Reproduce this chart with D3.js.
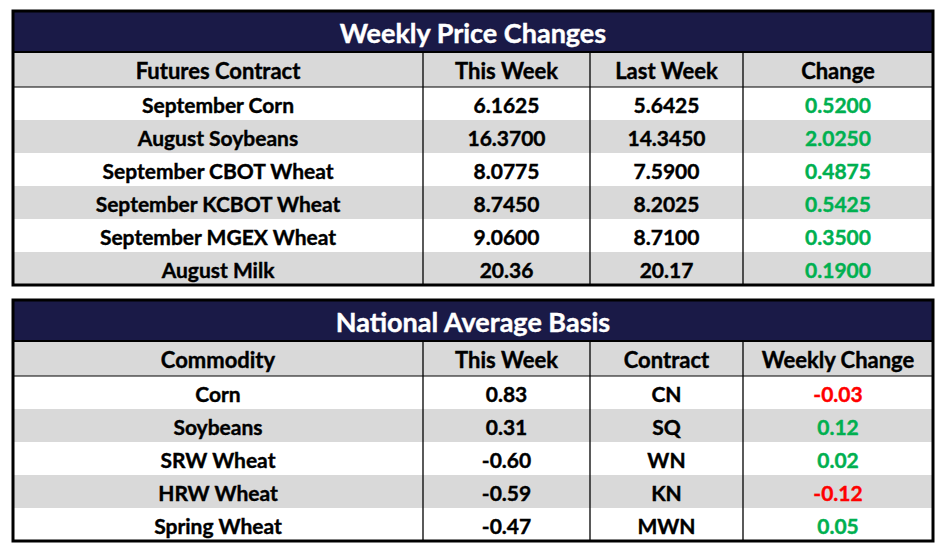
<!DOCTYPE html>
<html>
<head>
<meta charset="utf-8">
<script src="https://cdn.jsdelivr.net/npm/d3@7"></script>
<style>
  body { margin: 0; background: #fff; }
  text { font-family: Lato, "Open Sans", sans-serif; font-weight: 700; }
</style>
</head>
<body>
<div id="chart"></div>
<script>
// Weekly price changes table
const futuresHeaders = ["Futures Contract", "This Week", "Last Week", "Change"]
const futuresContracts = ["September Corn", "August Soybeans", "September CBOT Wheat",
  "September KCBOT Wheat", "September MGEX Wheat", "August Milk"]
const futuresThisWeek = ["6.1625", "16.3700", "8.0775", "8.7450", "9.0600", "20.36"]
const futuresLastWeek = ["5.6425", "14.3450", "7.5900", "8.2025", "8.7100", "20.17"]
const futuresChange = ["0.5200", "2.0250", "0.4875", "0.5425", "0.3500", "0.1900"]

// National average basis table
const basisHeaders = ["Commodity", "This Week", "Contract", "Weekly Change"]
const basisCommodities = ["Corn", "Soybeans", "SRW Wheat", "HRW Wheat", "Spring Wheat"]
const basisThisWeek = ["0.83", "0.31", "-0.60", "-0.59", "-0.47"]
const basisContracts = ["CN", "SQ", "WN", "KN", "MWN"]
const basisChange = ["-0.03", "0.12", "0.02", "-0.12", "0.05"]

const W = 947, H = 553
const navy = "#1a1a47", gray = "#d9d9d9", green = "#00b050", red = "#ff0000"

const svg = d3.select("#chart").append("svg")
  .attr("width", W).attr("height", H)

// column edges shared by both tables
const colX = d3.scaleLinear().domain([0, 1, 2, 3, 4]).range([13, 423, 590, 743, 933])

function drawTable(top, title, headers, columns, colorCol) {
  const nRows = columns[0].length
  const titleH = 41, headH = 35, rowH = 33
  const headTop = top + titleH
  const bodyTop = headTop + headH
  const y = d3.scaleBand().domain(d3.range(nRows)).range([bodyTop, bodyTop + rowH * nRows])
  const bottom = bodyTop + rowH * nRows
  const g = svg.append("g")

  // title bar
  g.append("rect").attr("x", colX(0)).attr("y", top)
    .attr("width", colX(4) - colX(0)).attr("height", titleH).attr("fill", navy)
  g.append("text").attr("x", (colX(0) + colX(4)) / 2).attr("y", top + titleH / 2 + 1)
    .attr("text-anchor", "middle").attr("dominant-baseline", "central")
    .attr("fill", "#fff").attr("stroke", "#fff").attr("stroke-width", 0.4)
    .attr("font-size", 27).text(title)

  // header row
  g.append("rect").attr("x", colX(0)).attr("y", headTop)
    .attr("width", colX(4) - colX(0)).attr("height", headH).attr("fill", gray)
  g.selectAll(".hdr").data(headers).enter().append("text")
    .attr("x", (d, i) => (colX(i) + colX(i + 1)) / 2)
    .attr("y", headTop + headH / 2 + 1)
    .attr("text-anchor", "middle").attr("dominant-baseline", "central")
    .attr("font-size", 22).attr("fill", "#000").attr("stroke", "#000").attr("stroke-width", 0.4)
    .text(d => d)

  // body rows
  g.selectAll(".row").data(d3.range(nRows)).enter().append("rect")
    .attr("x", colX(0)).attr("y", d => y(d))
    .attr("width", colX(4) - colX(0)).attr("height", y.bandwidth())
    .attr("fill", d => d % 2 ? gray : "#fff")

  columns.forEach((col, c) => {
    g.selectAll(".c" + c).data(col).enter().append("text")
      .attr("x", (colX(c) + colX(c + 1)) / 2)
      .attr("y", (d, i) => y(i) + y.bandwidth() / 2 + 1)
      .attr("text-anchor", "middle").attr("dominant-baseline", "central")
      .attr("font-size", 21)
      .attr("fill", d => c === colorCol ? (+d < 0 ? red : green) : "#000")
      .attr("stroke", d => c === colorCol ? (+d < 0 ? red : green) : "#000")
      .attr("stroke-width", 0.4)
      .text(d => d)
  })

  // lines
  g.append("line").attr("x1", colX(0)).attr("x2", colX(4))
    .attr("y1", headTop).attr("y2", headTop).attr("stroke", "#000").attr("stroke-width", 2)
  g.append("line").attr("x1", colX(0)).attr("x2", colX(4))
    .attr("y1", bodyTop).attr("y2", bodyTop).attr("stroke", "#000").attr("stroke-width", 1)
  g.selectAll(".vl").data([1, 2, 3]).enter().append("line")
    .attr("x1", d => colX(d)).attr("x2", d => colX(d))
    .attr("y1", headTop).attr("y2", bottom).attr("stroke", "#000").attr("stroke-width", 1.3)
  g.append("rect").attr("x", colX(0)).attr("y", top)
    .attr("width", colX(4) - colX(0)).attr("height", bottom - top)
    .attr("fill", "none").attr("stroke", "#000").attr("stroke-width", 3)
}

drawTable(11, "Weekly Price Changes", futuresHeaders,
  [futuresContracts, futuresThisWeek, futuresLastWeek, futuresChange], 3)
drawTable(300, "National Average Basis", basisHeaders,
  [basisCommodities, basisThisWeek, basisContracts, basisChange], 3)
</script>
</body>
</html>
